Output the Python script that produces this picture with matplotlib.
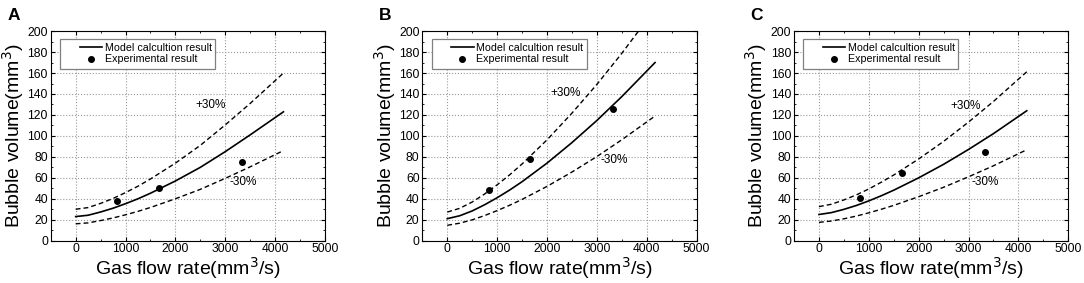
import matplotlib
matplotlib.use('Agg')
import matplotlib.pyplot as plt
from matplotlib.patches import Rectangle
from matplotlib.ticker import MultipleLocator

plt.rcParams['font.family'] = ['Liberation Sans', 'DejaVu Sans']

# ── Data ─────────────────────────────────────────────────────────────
flow = [0, 250, 500, 750, 1000, 1250, 1500, 2000, 2500, 3000, 3500, 4167]
exp_flow = [833, 1667, 3333]

model_a = [23, 24.3, 27.4, 31, 35.3, 40, 45.3, 57, 70, 85, 101, 123]
upper_a = [30, 31.6, 35.6, 40.3, 45.9, 52, 58.9, 74, 91, 110.5, 131, 160]
lower_a = [16.1, 17, 19.2, 21.7, 24.7, 28, 31.7, 40, 49, 59.5, 70.5, 86]
exp_a = [38, 50, 75]

model_b = [21, 23.8, 28.4, 34.3, 41, 48.3, 56.3, 74, 93.6, 114.7, 137.5, 170]
upper_b = [27.3, 30.9, 36.9, 44.6, 53.3, 62.8, 73.2, 96.2, 121.7, 149.1, 178.8, 221]
lower_b = [14.7, 16.7, 19.9, 24, 28.7, 33.8, 39.4, 51.8, 65.5, 80.3, 96.3, 119]
exp_b = [48, 78, 126]

model_c = [25, 26.8, 29.9, 33.6, 38, 42.9, 48.2, 60, 72.9, 87.1, 102.2, 124]
upper_c = [32.5, 34.8, 38.9, 43.7, 49.4, 55.8, 62.7, 78, 94.8, 113.2, 132.9, 161.2]
lower_c = [17.5, 18.8, 20.9, 23.5, 26.6, 30, 33.7, 42, 51, 61, 71.5, 86.8]
exp_c = [41, 65, 85]

panels = [
    ('A', model_a, upper_a, lower_a, exp_a, (2400, 127), (3080, 53)),
    ('B', model_b, upper_b, lower_b, exp_b, (2070, 138), (3080, 74)),
    ('C', model_c, upper_c, lower_c, exp_c, (2630, 126), (3060, 53)),
]

axes_left = [0.0468, 0.3896, 0.7325]
ax_w = 0.253
ax_b, ax_h = 0.1495, 0.7405

fig = plt.figure(figsize=(10.84, 2.83), dpi=100)

for i, (letter, model, upper, lower, exp, plus_pos, minus_pos) in enumerate(panels):
    ax = fig.add_axes([axes_left[i], ax_b, ax_w, ax_h])
    ax.plot(flow, upper, color='black', linewidth=1.0, dashes=(3.5, 2.2))
    ax.plot(flow, lower, color='black', linewidth=1.0, dashes=(3.5, 2.2))
    ax.plot(flow, model, '-', color='black', linewidth=1.2,
            label='Model calcultion result')
    ax.plot(exp_flow, exp, 'o', color='black', markersize=4,
            label='Experimental result', linestyle='none')

    ax.text(plus_pos[0], plus_pos[1], '+30%', fontsize=8.5)
    ax.text(minus_pos[0], minus_pos[1], '-30%', fontsize=8.5)

    ax.set_xlim(-500, 5000)
    ax.set_ylim(0, 200)
    ax.xaxis.set_major_locator(MultipleLocator(1000))
    ax.xaxis.set_minor_locator(MultipleLocator(500))
    ax.yaxis.set_major_locator(MultipleLocator(20))
    ax.yaxis.set_minor_locator(MultipleLocator(10))
    ax.tick_params(which='both', direction='in', top=True, right=True,
                   labelsize=8.7, pad=2)
    ax.tick_params(which='major', length=3)
    ax.tick_params(which='minor', length=1.5)
    ax.grid(True, which='major', linestyle=':', color='#999999', linewidth=0.8)
    for sp in ax.spines.values():
        sp.set_linewidth(0.8)

    ax.set_xlabel('Gas flow rate(mm$^3$/s)', fontsize=14, labelpad=0)
    ax.set_ylabel('Bubble volume(mm$^3$)', fontsize=14, labelpad=1)

    # legend box drawn by hand so the padding matches
    ax.add_patch(Rectangle((0.034, 0.819), 0.565, 0.143, transform=ax.transAxes,
                           facecolor='white', edgecolor='#808080',
                           linewidth=0.9, zorder=4))
    leg = ax.legend(loc='upper left', bbox_to_anchor=(0.105, 0.945),
                    fontsize=7.7, frameon=False, borderaxespad=0,
                    borderpad=0, handlelength=2.1, labelspacing=0.15,
                    handletextpad=0.25)
    leg.set_zorder(5)

    fig.text(axes_left[i] - 0.04, 0.97, letter, fontsize=12.5,
             fontweight='bold', va='top')

plt.savefig('out.png', dpi=100)
